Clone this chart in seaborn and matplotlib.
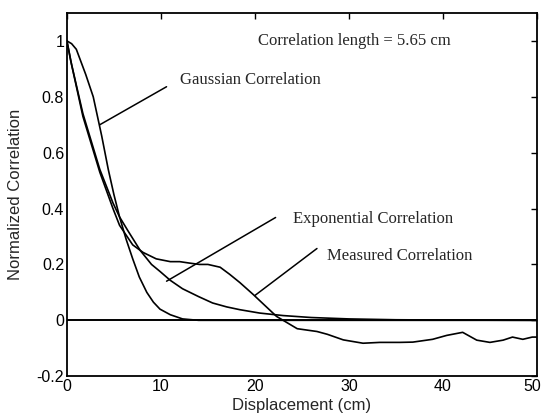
import numpy as np
import pandas as pd
import matplotlib
matplotlib.use('Agg')
import matplotlib.pyplot as plt
import matplotlib.transforms as mtransforms
import seaborn as sns

# valores
gauss_x = [0, 0.5, 1, 2, 2.8, 3.7, 4.4, 5, 5.6, 6.3, 7, 7.7, 8.5, 9.2, 9.9, 11, 12.3, 14, 20, 50]
gauss_y = [1.0, 0.99, 0.97, 0.88, 0.8, 0.66, 0.54, 0.45, 0.37, 0.29, 0.22, 0.155, 0.1, 0.065, 0.04, 0.02, 0.005, 0.0, 0.0, 0.0]

expo_x = [0, 0.5, 1.7, 3.5, 4.9, 5.6, 6.5, 7.8, 9, 9.9, 11, 12.3, 14, 15.5, 17, 18.4, 20.5, 23, 26, 30, 35, 40, 50]
expo_y = [1.0, 0.915, 0.74, 0.54, 0.42, 0.37, 0.32, 0.25, 0.2, 0.175, 0.143, 0.113, 0.085, 0.062, 0.048, 0.038, 0.026,
          0.017, 0.01, 0.005, 0.002, 0.001, 0.0]

meas_x = [0, 0.4, 1.7, 3.5, 4.9, 5.6, 7, 8.1, 9.5, 11, 12, 13, 14.1, 15, 16.3, 17.3, 18.4, 19.8, 21, 22.3, 23, 24.5,
          26.6, 27.7, 29.4, 31.5, 33.3, 35.4, 36.8, 38.9, 40.4, 42.1, 43.6, 45, 46.4, 47.4, 48.5, 49.5, 50]
meas_y = [1.0, 0.93, 0.73, 0.53, 0.4, 0.34, 0.27, 0.243, 0.22, 0.21, 0.21, 0.205, 0.2, 0.2, 0.19, 0.165, 0.135, 0.093,
          0.055, 0.014, 0.0, -0.03, -0.04, -0.05, -0.07, -0.082, -0.079, -0.079, -0.078, -0.068, -0.054, -0.043,
          -0.071, -0.079, -0.071, -0.06, -0.068, -0.06, -0.06]

sns.set_style('white')
plt.rcParams['font.family'] = ['Liberation Sans', 'DejaVu Sans']

fig = plt.figure(figsize=(5.44, 4.18), dpi=100)
ax = fig.add_axes([0.123, 0.100, 0.864, 0.869])

for xs, ys in [(gauss_x, gauss_y), (expo_x, expo_y), (meas_x, meas_y)]:
    df = pd.DataFrame({'x': xs, 'y': ys})
    sns.lineplot(data=df, x='x', y='y', ax=ax, color='black', linewidth=1.2, sort=False)

ax.axhline(0, color='black', linewidth=1.4)

ax.set_xlim(0, 50)
ax.set_ylim(-0.2, 1.1)
ax.set_xticks([0, 10, 20, 30, 40, 50])
ax.set_yticks([-0.2, 0, 0.2, 0.4, 0.6, 0.8, 1])
ax.set_yticklabels(['-0.2', '0', '0.2', '0.4', '0.6', '0.8', '1'])
ax.tick_params(direction='in', length=4, width=1, top=True, right=True, labelsize=11.5, colors='black', pad=2)
for s in ax.spines.values():
    s.set_visible(True)
    s.set_color('black')
    s.set_linewidth(1.3)

# o rótulo "50" fica na borda da figura, deslocando um pouco para a esquerda
last = ax.get_xticklabels()[-1]
last.set_transform(last.get_transform() + mtransforms.ScaledTranslation(-5 / 100, 0, fig.dpi_scale_trans))

ax.set_xlabel('Displacement (cm)', fontsize=12, labelpad=3)
ax.set_ylabel('Normalized Correlation', fontsize=12)
ax.yaxis.set_label_coords(-0.094, 0.5)

# anotações
serif = {'family': 'Liberation Serif', 'size': 12}
ax.text(20.3, 1.0, 'Correlation length = 5.65 cm', va='center', fontdict=serif)
ax.text(12.0, 0.86, 'Gaussian Correlation', va='center', fontdict=serif)
ax.text(24.1, 0.364, 'Exponential Correlation', va='center', fontdict=serif)
ax.text(27.7, 0.229, 'Measured Correlation', va='center', fontdict=serif)

ax.plot([10.6, 3.5], [0.836, 0.70], color='black', linewidth=1.1)
ax.plot([22.2, 10.6], [0.368, 0.14], color='black', linewidth=1.1)
ax.plot([26.6, 20.0], [0.257, 0.089], color='black', linewidth=1.1)

plt.savefig('out.png', dpi=100)
